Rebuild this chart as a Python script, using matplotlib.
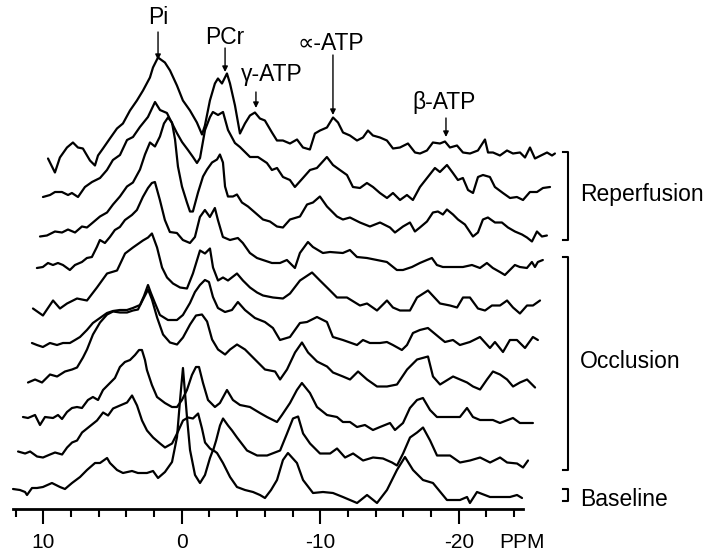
import matplotlib
matplotlib.use("Agg")
import matplotlib.pyplot as plt
import numpy as np

plt.rcParams['font.family'] = ['Liberation Sans', 'DejaVu Sans']
plt.rcParams['axes.unicode_minus'] = False

# ── 31P spectra, stacked from baseline (bottom) to late reperfusion (top) ─────
# ppmN = chemical shift of each point, ampN = height above that trace's baseline
ppm0 = [12.18, 11.68, 11.31, 11.17, 10.81, 10.45, 10.02, 9.37, 8.79, 8.43,
        7.92, 7.34, 6.84, 6.26, 5.90, 5.39, 5.18, 4.67, 4.24, 3.59,
        3.16, 2.51, 2.07, 1.71, 1.21, 0.70, 0.34, 0.12, -0.09,
        -0.38, -0.60, -0.96, -1.32, -1.68, -2.04, -2.26, -2.55, -2.98, -3.49,
        -3.99, -4.57, -5.15, -5.65, -6.01, -6.45, -6.88, -7.31, -7.67,
        -8.32, -8.76, -9.48, -10.20, -10.92, -11.64, -12.66, -13.38, -14.10, -14.82,
        -15.54, -16.12, -16.70, -17.42, -18.14, -19.15, -20.09, -20.60, -20.81, -21.32,
        -22.26, -22.98, -23.70, -24.21, -24.57]
amp0 = [11, 10, 8, 5, 12, 12, 13, 17, 13, 11,
        17, 23, 30, 37, 37, 42, 37, 30, 27, 29,
        27, 27, 29, 22, 28, 38, 63, 100, 132,
        83, 50, 25, 17, 25, 42, 50, 47, 37, 23,
        13, 10, 8, 5, 2, 10, 20, 40, 47,
        37, 20, 7, 8, 7, 3, -3, 5, -3, 10,
        30, 43, 30, 20, 17, 0, 0, 3, -3, 8,
        3, 3, 3, 5, 2]

ppm1 = [12.09, 11.58, 11.22, 10.72, 10.29, 9.78, 9.42, 8.91, 8.55, 8.19,
        7.83, 7.47, 7.11, 6.75, 6.39, 5.95, 5.59, 5.23, 4.73, 4.22,
        3.86, 3.50, 3.14, 2.78, 2.34, 1.84, 1.48, 0.97, 0.61, 0.18,
        -0.18, -0.54, -0.91, -1.19, -1.41, -1.77, -1.99, -2.21, -2.49, -2.71,
        -3.07, -3.36, -3.72, -4.44, -5.17, -5.89, -6.83, -7.33, -7.76, -8.13,
        -8.49, -8.99, -9.71, -10.44, -10.94, -11.52, -12.10, -12.82, -13.54, -14.26,
        -14.91, -15.27, -15.71, -16.21, -16.72, -17.15, -17.66, -18.16, -18.59, -19.10,
        -19.82, -20.54, -21.27, -21.99, -22.71, -23.22, -23.94, -24.37, -24.73]
amp1 = [11, 9, 11, 6, 5, 8, 10, 8, 15, 20,
        22, 30, 34, 38, 42, 50, 47, 54, 57, 60,
        67, 57, 42, 32, 25, 19, 15, 19, 29, 42,
        45, 44, 49, 34, 20, 14, 12, 22, 37, 44,
        37, 32, 25, 12, 7, 7, 12, 29, 44, 46,
        29, 19, 9, 9, 14, 5, 9, 2, 5, 4,
        0, -3, 9, 25, 30, 35, 22, 7, 7, 7,
        0, 2, 5, 0, 5, 0, -1, -5, 2]

ppm2 = [12.01, 11.65, 11.14, 10.78, 10.42, 9.84, 9.48, 9.19, 8.83, 8.47,
        8.11, 7.75, 7.32, 6.96, 6.59, 6.23, 5.73, 5.37, 5.01, 4.65,
        4.28, 3.92, 3.63, 3.42, 3.20, 3.06, 2.70, 2.33, 1.76, 1.25,
        0.89, 0.53, 0.17, -0.19, -0.48, -0.70, -0.99, -1.35, -1.85, -2.21,
        -2.72, -3.15, -3.66, -4.38, -5.10, -5.61, -6.33, -6.69, -7.27, -7.77,
        -8.13, -8.71, -9.22, -9.94, -10.66, -11.09, -11.60, -12.11, -12.68, -13.26,
        -13.77, -14.49, -14.85, -15.43, -15.93, -16.44, -16.87, -17.38, -17.88, -18.60,
        -19.54, -20.05, -20.48, -20.99, -21.92, -22.43, -23.37, -23.87, -24.81]
amp2 = [8, 7, 10, 0, 8, 7, 10, 6, 13, 17,
        18, 17, 25, 28, 25, 35, 42, 47, 58, 63,
        65, 70, 75, 75, 65, 55, 40, 28, 22, 18,
        18, 25, 35, 50, 58, 58, 42, 25, 18, 22,
        35, 25, 20, 18, 12, 8, 3, 10, 22, 35,
        42, 32, 18, 10, 8, 3, 3, -2, 0, -5,
        -2, 2, -5, 2, 17, 25, 27, 15, 8, 8,
        8, 17, 8, 5, 5, 2, 7, 2, 2]

ppm3 = [11.92, 11.41, 10.91, 10.33, 9.82, 9.25, 8.74, 8.38, 7.95, 7.66,
        7.23, 6.72, 6.21, 5.78, 5.28, 4.77, 4.34, 3.98, 3.62, 3.25,
        2.97, 2.60, 2.17, 1.67, 1.16, 0.73, 0.22, -0.21, -0.64, -1.01,
        -1.37, -1.80, -2.31, -2.67, -3.17, -3.75, -4.47, -5.19, -5.92, -6.28,
        -6.78, -7.36, -7.86, -8.30, -8.95, -9.67, -10.10, -10.82, -11.33, -11.91,
        -12.56, -13.28, -14.00, -14.72, -15.45, -16.17, -16.96, -17.32, -17.83, -18.77,
        -19.78, -20.21, -20.72, -21.22, -21.65, -22.16, -22.67, -23.10, -23.60, -24.11,
        -24.69]
amp3 = [5, 8, 5, 13, 11, 16, 18, 20, 30, 38,
        53, 65, 73, 76, 75, 75, 77, 78, 88, 98,
        88, 70, 53, 45, 43, 50, 63, 72, 73, 66,
        48, 38, 33, 38, 43, 38, 28, 18, 16, 8,
        18, 35, 45, 35, 26, 21, 15, 11, 8, 16,
        8, 1, 1, 3, 18, 28, 31, 11, 3, 11,
        5, 1, -2, 8, 16, 13, 8, 1, 5, 8,
        0]

ppm4 = [11.91, 11.55, 11.12, 10.61, 10.10, 9.67, 9.17, 8.80, 8.44, 7.94,
        7.51, 7.00, 6.49, 6.06, 5.56, 5.05, 4.62, 4.11, 3.82, 3.53,
        3.32, 3.03, 2.67, 2.09, 1.44, 1.01, 0.50, 0.14, -0.22, -0.58,
        -0.87, -1.16, -1.52, -2.03, -2.53, -2.96, -3.47, -4.19, -4.91, -5.49,
        -6.00, -6.72, -7.44, -7.95, -8.67, -9.39, -9.82, -10.54, -11.56, -11.99,
        -12.49, -13.22, -13.72, -14.15, -14.80, -15.17, -15.60, -16.10, -16.68, -17.55,
        -17.91, -18.49, -18.99, -19.71, -20.44, -21.16, -21.52, -22.10, -22.60, -23.11,
        -23.69, -24.26, -24.62]
amp4 = [7, 5, 3, 7, 5, 7, 7, 10, 13, 20,
        27, 32, 37, 39, 40, 40, 42, 45, 54, 65,
        57, 47, 35, 30, 30, 35, 47, 58, 65, 70,
        68, 53, 42, 38, 40, 48, 40, 32, 28, 22,
        10, 13, 27, 28, 33, 28, 13, 10, 5, 10,
        7, 7, 8, 5, 0, 5, 17, 20, 22, 12,
        8, 10, 5, 8, 13, 2, 8, -2, 10, 10,
        2, 13, 10]

ppm5 = [12.11, 11.39, 10.66, 10.16, 9.65, 8.93, 8.21, 7.49, 6.76, 6.04,
        5.46, 4.89, 4.17, 3.80, 3.52, 3.15, 2.79, 2.43, 2.00, 1.49,
        0.99, 0.56, 0.05, -0.31, -0.67, -0.89, -1.25, -1.61, -1.97, -2.62,
        -3.05, -3.56, -4.07, -4.50, -5.22, -5.94, -6.45, -7.17, -8.04, -8.61,
        -9.34, -9.84, -10.56, -11.50, -12.01, -12.73, -13.45, -13.88, -14.39, -15.11,
        -15.62, -16.41, -17.28, -18.00, -18.51, -18.94, -19.44, -20.02, -20.53, -21.03,
        -21.61, -22.12, -22.55, -23.05, -23.56, -23.99, -24.50]
amp5 = [4, -3, 12, 4, 9, 14, 12, 25, 39, 42,
        59, 65, 72, 75, 79, 65, 45, 35, 29, 25,
        24, 39, 62, 59, 64, 45, 32, 35, 32, 39,
        32, 25, 20, 17, 15, 14, 19, 32, 40, 32,
        22, 15, 15, 7, 9, 2, 12, 5, 2, 2,
        15, 22, 9, 7, 5, 15, 15, 4, 2, 7,
        7, 12, 5, -1, 7, 7, 12]

ppm6 = [12.10, 11.67, 11.30, 10.94, 10.58, 10.22, 9.72, 9.35, 8.85, 8.49,
        8.13, 7.77, 7.55, 7.19, 6.83, 6.47, 6.11, 5.74, 5.24, 4.88,
        4.45, 4.08, 3.80, 3.58, 3.22, 2.86, 2.50, 1.99, 1.56, 1.05,
        0.69, 0.33, -0.03, -0.39, -0.75, -0.97, -1.33, -1.84, -2.41, -2.77,
        -3.28, -3.79, -4.22, -4.87, -5.45, -5.95, -6.53, -6.89, -7.47, -7.83,
        -8.55, -9.06, -9.99, -10.50, -11.01, -11.73, -12.45, -13.17, -13.89, -14.33,
        -14.98, -15.55, -16.06, -16.42, -16.78, -17.21, -18.08, -18.66, -19.31, -19.89,
        -20.39, -20.82, -21.33, -21.69, -22.05, -22.41, -22.77, -23.28, -23.64, -23.86,
        -24.07, -24.43]
amp6 = [7, 8, 12, 10, 12, 10, 5, 10, 13, 17,
        18, 28, 35, 32, 38, 45, 48, 55, 60, 65,
        78, 87, 92, 93, 75, 55, 43, 42, 35, 32,
        38, 58, 65, 58, 67, 55, 38, 35, 37, 32,
        22, 17, 15, 12, 12, 15, 7, 22, 33, 28,
        22, 23, 22, 25, 18, 17, 15, 13, 5, 5,
        8, 12, 15, 17, 10, 8, 8, 8, 10, 7,
        12, 7, 3, 0, 5, 10, 8, 7, 13, 8,
        13, 15]

ppm7 = [12.15, 11.65, 11.07, 10.56, 10.13, 9.62, 9.12, 8.76, 8.33, 7.82,
        7.31, 6.88, 6.38, 5.87, 5.44, 4.93, 4.57, 4.21, 3.85, 3.49,
        3.20, 2.91, 2.62, 2.40, 2.19, 1.90, 1.54, 1.32, 1.11, 0.74,
        0.38, 0.09, -0.27, -0.63, -0.84, -1.06, -1.21, -1.42, -1.78, -2.07,
        -2.43, -2.87, -3.37, -3.95, -4.45, -4.96, -5.39, -5.90, -6.62, -7.13,
        -7.56, -8.06, -8.57, -9.29, -9.72, -10.23, -10.95, -11.67, -12.40, -13.12,
        -13.48, -14.06, -14.56, -14.92, -15.28, -15.79, -16.22, -16.58, -16.94, -17.23,
        -17.67, -18.03, -18.53, -19.11, -19.47, -19.83, -20.19, -20.70, -21.20, -21.64,
        -22.14, -22.65, -23.01, -23.37, -23.73, -24.09, -24.45]
amp7 = [1, 2, 6, 5, 8, 5, 11, 10, 15, 21,
        25, 33, 41, 51, 55, 68, 83, 95, 91, 101,
        114, 120, 115, 98, 71, 51, 35, 26, 26, 45,
        61, 68, 75, 78, 83, 75, 51, 41, 41, 43,
        35, 31, 25, 18, 16, 11, 10, 18, 21, 33,
        35, 41, 31, 21, 18, 20, 15, 11, 15, 10,
        5, 11, 15, 6, 10, 16, 25, 26, 23, 28,
        23, 18, 13, 1, 5, 18, 20, 15, 15, 10,
        6, 3, 0, -4, 6, 1, 2]

ppm8 = [12.21, 11.70, 11.34, 10.84, 10.40, 10.12, 9.68, 9.18, 8.67, 8.09,
        7.59, 7.16, 6.65, 6.14, 5.71, 5.21, 4.63, 4.12, 3.76, 3.26,
        2.90, 2.54, 2.17, 1.74, 1.38, 1.09, 0.87, 0.51, 0.15, -0.06,
        -0.43, -0.79, -1.15, -1.65, -2.01, -2.74, -3.31, -3.96, -4.32, -4.69,
        -5.12, -5.62, -5.98, -6.56, -7.07, -7.57, -8.29, -8.73, -9.23, -9.74,
        -10.17, -10.68, -11.18, -11.62, -12.12, -12.63, -13.06, -13.57, -14.07, -14.50,
        -15.01, -15.52, -16.09, -16.45, -16.96, -17.39, -17.75, -18.11, -18.48, -18.84,
        -19.20, -19.56, -20.06, -20.42, -21.00, -21.51, -22.01, -22.45, -22.95, -23.46,
        -23.89, -24.40]
amp8 = [3, 5, 8, 8, 5, 7, 3, 13, 18, 22,
        30, 40, 45, 60, 63, 73, 83, 98, 90, 87,
        77, 67, 58, 50, 43, 37, 42, 70, 83, 88,
        85, 88, 70, 57, 53, 43, 43, 37, 30, 32,
        23, 20, 13, 22, 30, 32, 43, 35, 30, 25,
        13, 12, 17, 13, 7, 2, 7, 0, 5, 0,
        13, 22, 32, 28, 35, 27, 20, 22, 10, 7,
        23, 25, 23, 13, 7, 2, 3, 0, 8, 8,
        12, 13]

ppm9 = [12.12, 11.62, 11.26, 10.75, 10.32, 9.96, 9.60, 9.09, 8.73, 8.51,
        8.15, 7.65, 7.14, 6.71, 6.20, 5.70, 5.26, 4.76, 4.54, 4.18,
        3.68, 3.31, 2.81, 2.38, 1.87, 1.37, 1.00, 0.79, 0.43, 0.07,
        -0.15, -0.44, -0.80, -1.02, -1.38, -1.74, -2.10, -2.46, -2.82, -3.18,
        -3.54, -4.05, -4.41, -4.84, -5.35, -5.86, -6.29, -6.79, -7.15, -7.52,
        -8.02, -8.46, -8.82, -9.18, -9.68, -10.19, -10.62, -10.98, -11.34, -11.85,
        -12.35, -12.79, -13.29, -13.87, -14.38, -14.74, -15.24, -15.67, -16.18, -16.54,
        -16.90, -17.41, -17.84, -18.35, -18.92, -19.43, -19.65, -20.01, -20.51, -21.02,
        -21.45, -21.96, -22.32, -22.68, -23.04, -23.47, -23.91, -24.27, -24.48]
amp9 = [4, -10, 5, 15, 20, 15, 14, 2, -3, 7,
        14, 24, 34, 39, 52, 62, 72, 85, 95, 105,
        100, 92, 77, 62, 52, 40, 28, 37, 62, 79,
        84, 79, 89, 79, 57, 29, 39, 47, 50, 44,
        42, 30, 22, 22, 19, 23, 15, 13, 29, 32,
        35, 45, 40, 30, 27, 22, 25, 32, 27, 25,
        22, 14, 15, 19, 10, 9, 12, 20, 19, 21,
        15, 17, 10, 9, 12, 23, 10, 10, 7, 12,
        9, 10, 5, 15, 4, 7, 10, 7, 9]

spectra = [(ppm0, amp0), (ppm1, amp1), (ppm2, amp2), (ppm3, amp3), (ppm4, amp4),
           (ppm5, amp5), (ppm6, amp6), (ppm7, amp7), (ppm8, amp8), (ppm9, amp9)]

# trace groups: label, bracket bottom/top and label height (stacked y units)
groups = [("Reperfusion", 260, 348, 305), ("Occlusion", 30, 243, 138), ("Baseline", -1, 11, 1)]

STEP_Y = 37.5    # vertical gap between successive spectra
STEP_X = 0.274   # each spectrum drawn slightly further right (ppm)

fig = plt.figure(figsize=(7.04, 5.53), dpi=100)
ax = fig.add_axes([0, 0, 1, 1])

for k, (ppm, amp) in enumerate(spectra):
    ax.plot(np.array(ppm) - STEP_X * k, np.array(amp) + STEP_Y * k,
            color='black', lw=1.6, solid_joinstyle='round', solid_capstyle='round')

ax.set_xlim(13.12, -37.71)
ax.set_ylim(-53, 500)

# ppm axis
for side in ['top', 'left', 'right']:
    ax.spines[side].set_visible(False)
ax.spines['bottom'].set_position(('data', -9))
ax.spines['bottom'].set_bounds(-24.64, 12.18)
ax.spines['bottom'].set_linewidth(2)
ax.yaxis.set_visible(False)
ax.patch.set_visible(False)
ax.set_xticks([10, 0, -10, -20])
ax.set_xticklabels(['10', '0', '-10', '-20'])
ax.set_xticks([12, 8, 6, 4, 2, -2, -4, -6, -8, -12, -14, -16, -18, -22, -24], minor=True)
ax.tick_params(axis='x', which='major', length=11, width=1.5, direction='out', pad=6, labelsize=15)
ax.tick_params(axis='x', which='minor', length=5.5, width=1.5, direction='out')
ax.text(-24.57, -43, 'PPM', ha='center', va='center', fontsize=15)

# peak labels with arrows: (text, arrow x, text y, arrow tail y, arrow tip y, text x)
peaks = [("Pi", 1.71, 483, 468, 440, 1.71),
         ("PCr", -3.13, 462, 452, 428, -3.13),
         ("γ-ATP", -5.36, 426, 408, 392, -6.52),
         ("∝-ATP", -10.92, 456, 445, 385, -10.77),
         ("β-ATP", -19.08, 397, 382, 363, -18.94)]
for name, xa, yt, y0, y1, xt in peaks:
    ax.text(xt, yt, name, ha='center', va='center', fontsize=16.5)
    ax.annotate('', xy=(xa, y1), xytext=(xa, y0),
                arrowprops=dict(arrowstyle='-|>', color='black', lw=1, mutation_scale=8,
                                shrinkA=0, shrinkB=0))

# group brackets on the right
trans = ax.get_yaxis_transform()
bx = 0.807
for name, y0, y1, yl in groups:
    ax.plot([bx - 0.007, bx, bx, bx - 0.007], [y0, y0, y1, y1], transform=trans,
            color='black', lw=1.5)
    ax.text(bx + 0.017, yl, name, transform=trans, ha='left', va='center', fontsize=16.5)

fig.savefig('out.png', dpi=100)
